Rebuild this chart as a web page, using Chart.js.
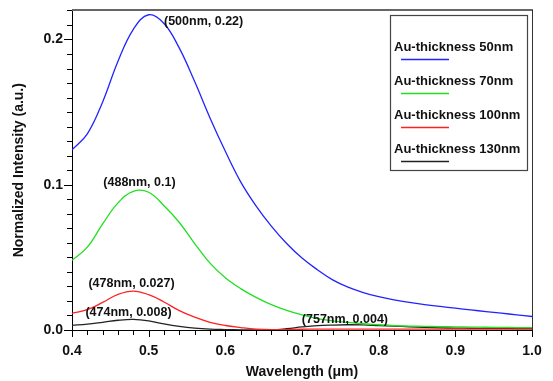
<!DOCTYPE html>
<html>
<head>
<meta charset="utf-8">
<script src="https://cdn.jsdelivr.net/npm/chart.js@4/dist/chart.umd.min.js"></script>
<style>
  html, body { margin: 0; padding: 0; background: #fff; }
  #wrap { width: 553px; height: 381px; }
</style>
</head>
<body>
<div id="wrap"><canvas id="chart" width="553" height="381"></canvas></div>
<script>
// wavelength (um)
var wavelength = [0.40, 0.42, 0.44, 0.46, 0.48, 0.50, 0.52, 0.54, 0.56, 0.58,
                  0.60, 0.62, 0.64, 0.66, 0.68, 0.70, 0.72, 0.74, 0.76, 0.78,
                  0.80, 0.82, 0.84, 0.86, 0.88, 0.90, 0.92, 0.94, 0.96, 0.98, 1.00];

var au50  = [0.124, 0.135, 0.157, 0.185, 0.207, 0.217, 0.211, 0.194, 0.171, 0.146,
             0.123, 0.102, 0.0855, 0.0715, 0.0595, 0.0495, 0.0415, 0.0345, 0.0295, 0.0258,
             0.0230, 0.0208, 0.0190, 0.0175, 0.0162, 0.0150, 0.0138, 0.0127, 0.0116, 0.0104, 0.0093];
var au70  = [0.048, 0.057, 0.073, 0.0875, 0.0955, 0.0948, 0.0855, 0.074, 0.0595, 0.046,
             0.036, 0.0285, 0.0225, 0.0175, 0.0135, 0.0104, 0.0079, 0.0063, 0.0052, 0.0043,
             0.0036, 0.0030, 0.0027, 0.0025, 0.0023, 0.0022, 0.0020, 0.0019, 0.0018, 0.0017, 0.0016];
var au100 = [0.0115, 0.014, 0.019, 0.0245, 0.0268, 0.0243, 0.0193, 0.0133, 0.0088, 0.0053,
             0.0031, 0.0017, 0.0006, 0.0002, 0.0003, 0.0005, 0.0006, 0.0006, 0.0006, 0.0006,
             0.0006, 0.0006, 0.0006, 0.0006, 0.0006, 0.0006, 0.0006, 0.0006, 0.0006, 0.0006, 0.0006];
var au130 = [0.0032, 0.004, 0.0053, 0.0067, 0.0073, 0.0063, 0.0042, 0.0025, 0.0013, 0.0006,
             0.0003, 0.0001, 0.0, 0.0001, 0.0009, 0.0021, 0.003, 0.0034, 0.0036, 0.0035,
             0.0031, 0.0027, 0.0022, 0.0018, 0.0015, 0.0013, 0.0012, 0.0011, 0.0011, 0.0010, 0.0010];

var seriesNames = ['Au-thickness 50nm', 'Au-thickness 70nm', 'Au-thickness 100nm', 'Au-thickness 130nm'];
var seriesColors = ['#2323ff', '#20e020', '#ff2020', '#222222'];

// peak notes: text and the data point they sit at
var noteText = ['(500nm, 0.22)', '(488nm, 0.1)', '(478nm, 0.027)', '(474nm, 0.008)', '(757nm, 0.004)'];
var noteX    = [0.52, 0.488, 0.4776, 0.4737, 0.756];
var noteY    = [0.2124, 0.1017, 0.0323, 0.0119, 0.0069];
var noteAlign = ['left', 'center', 'center', 'center', 'center'];

var FONT = '"Liberation Sans", Arial, sans-serif';

function pts(ys) {
  return wavelength.map(function(x, i){ return {x: x, y: ys[i]}; });
}

var allSeries = [au50, au70, au100, au130];
var datasets = allSeries.map(function(s, i){
  return {
    label: seriesNames[i],
    data: pts(s),
    borderColor: seriesColors[i],
    backgroundColor: seriesColors[i],
    borderWidth: 1.3,
    pointRadius: 0,
    fill: false,
    tension: 0.4
  };
});

function isMajor(v) {
  return Math.round(v * 100) % 10 === 0;
}

// tick marks (major longer than minor), at the library's own tick positions
var tickMarks = {
  id: 'tickMarks',
  afterRender: function(chart) {
    var c = chart.ctx, a = chart.chartArea;
    var xs = chart.scales.x, ys = chart.scales.y;
    var left = Math.round(a.left), bottom = Math.round(a.bottom);
    c.save();
    c.fillStyle = '#000';
    for (var i = 0; i < xs.ticks.length; i++) {
      var px = Math.round(xs.getPixelForTick(i));
      c.fillRect(px, bottom, 1, isMajor(xs.ticks[i].value) ? 7 : 5);
    }
    for (var j = 0; j < ys.ticks.length; j++) {
      var py = Math.round(ys.getPixelForTick(j));
      var len = isMajor(ys.ticks[j].value) ? 8 : 5;
      c.fillRect(left - len, py, len, 1);
    }
    c.restore();
  }
};

var extras = {
  id: 'extras',
  afterDraw: function(chart) {
    var c = chart.ctx, a = chart.chartArea;
    var xs = chart.scales.x, ys = chart.scales.y;
    var left = Math.round(a.left), bottom = Math.round(a.bottom);
    c.save();

    // frame: top and right
    c.fillStyle = '#666';
    c.fillRect(left, Math.round(a.top) - 1, Math.round(a.right) - left + 1, 2);
    c.fillStyle = '#333';
    c.fillRect(Math.round(a.right), Math.round(a.top), 1, bottom - Math.round(a.top));

    // peak notes
    c.fillStyle = '#111';
    c.font = 'bold 12.5px ' + FONT;
    c.textBaseline = 'middle';
    noteText.forEach(function(t, i){
      c.textAlign = noteAlign[i];
      c.fillText(t, xs.getPixelForValue(noteX[i]), ys.getPixelForValue(noteY[i]));
    });

    // legend box
    var bx = Math.round(a.right) - 142, by = Math.round(a.top) + 5, bw = 137, bh = 155;
    c.fillStyle = '#fff';
    c.fillRect(bx, by, bw, bh);
    c.strokeStyle = '#444';
    c.lineWidth = 1.2;
    c.strokeRect(bx + 0.5, by + 0.5, bw, bh);
    c.font = 'bold 13px ' + FONT;
    c.textAlign = 'left';
    chart.data.datasets.forEach(function(ds, i){
      var ty = by + 32 + i * 34;
      c.fillStyle = '#111';
      c.fillText(ds.label, bx + 4, ty);
      c.strokeStyle = ds.borderColor;
      c.lineWidth = 1.3;
      c.beginPath();
      c.moveTo(bx + 11, ty + 12.5);
      c.lineTo(bx + 59, ty + 12.5);
      c.stroke();
    });
    c.restore();
  }
};

function majorLabel(v) {
  return isMajor(v) ? (Math.round(v * 100) / 100).toFixed(1) : '';
}

var ctx = document.getElementById('chart');
var myChart = new Chart(ctx, {
  type: 'line',
  data: { datasets: datasets },
  plugins: [extras, tickMarks],
  options: {
    responsive: false,
    animation: false,
    devicePixelRatio: 1,
    layout: { padding: { top: 10, right: 21, left: 0, bottom: 0 } },
    plugins: { legend: { display: false }, tooltip: { enabled: false } },
    scales: {
      x: {
        type: 'linear',
        min: 0.4,
        max: 1.0,
        afterFit: function(s){ s.height = 51; },
        grid: { display: true, drawOnChartArea: false, drawTicks: true, tickLength: 11,
                color: 'rgba(0,0,0,0)', tickColor: 'rgba(0,0,0,0)' },
        border: { display: true, color: '#000', width: 1 },
        ticks: {
          stepSize: 0.02,
          autoSkip: false,
          maxRotation: 0,
          padding: 2,
          color: '#111',
          font: { family: FONT, size: 14, weight: 'bold' },
          callback: majorLabel
        },
        title: {
          display: true,
          text: 'Wavelength (\u03bcm)',
          color: '#111',
          padding: { top: 0, bottom: 0 },
          font: { family: FONT, size: 14, weight: 'bold' }
        }
      },
      y: {
        min: 0,
        max: 0.22,
        afterFit: function(s){ s.width = 72; },
        grid: { display: true, drawOnChartArea: false, drawTicks: true, tickLength: 7,
                color: 'rgba(0,0,0,0)', tickColor: 'rgba(0,0,0,0)' },
        border: { display: true, color: '#000', width: 1 },
        ticks: {
          stepSize: 0.01,
          autoSkip: false,
          padding: 2,
          color: '#111',
          font: { family: FONT, size: 14, weight: 'bold' },
          callback: majorLabel
        },
        title: {
          display: true,
          text: 'Normalized Intensity (a.u.)',
          color: '#111',
          padding: { top: 11, bottom: 0 },
          font: { family: FONT, size: 14, weight: 'bold' }
        }
      }
    }
  }
});
</script>
</body>
</html>
